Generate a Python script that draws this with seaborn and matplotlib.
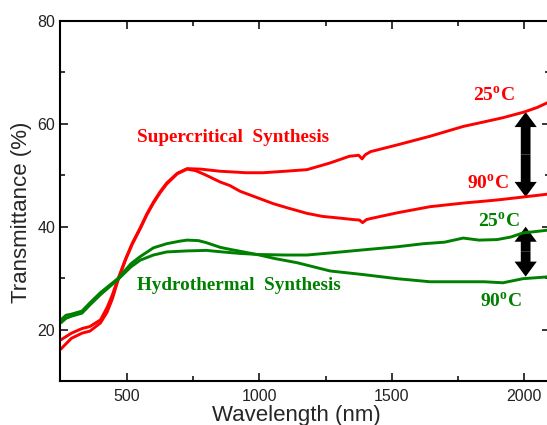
import numpy as np
import pandas as pd
import matplotlib
matplotlib.use("Agg")
import matplotlib.pyplot as plt
import seaborn as sns
from matplotlib.patches import FancyArrowPatch

# Supercritical synthesis, 25 oC
red25_x = [250, 290, 330, 360, 400, 425, 445, 465, 495, 520, 550, 575, 600, 625, 650, 690, 727,
           780, 850, 950, 1014, 1100, 1180, 1267, 1340, 1375, 1388, 1400, 1420, 1520, 1645, 1770,
           1850, 1920, 2000, 2050, 2100]
red25_y = [18.0, 19.3, 20.2, 20.6, 21.9, 24.3, 26.8, 29.7, 33.8, 36.8, 39.8, 42.5, 44.8, 46.8, 48.5,
           50.4, 51.3, 51.2, 50.8, 50.5, 50.5, 50.8, 51.1, 52.4, 53.7, 53.9, 53.2, 54.0, 54.6, 55.9,
           57.6, 59.5, 60.4, 61.2, 62.3, 63.2, 64.4]

# Supercritical synthesis, 90 oC
red90_x = [250, 290, 330, 360, 400, 425, 445, 465, 495, 520, 550, 575, 600, 625, 650, 690, 727,
           760, 800, 852, 889, 927, 1000, 1052, 1104, 1180, 1240, 1300, 1354, 1378, 1390, 1405,
           1430, 1520, 1645, 1770, 1898, 2000, 2050, 2100]
red90_y = [16.2, 18.3, 19.3, 19.7, 21.3, 23.4, 26.0, 29.4, 33.6, 36.6, 39.6, 42.3, 44.6, 46.6, 48.3,
           50.3, 51.2, 50.9, 50.0, 48.7, 48.0, 46.9, 45.5, 44.5, 43.7, 42.6, 42.0, 41.7, 41.4, 41.3,
           40.8, 41.4, 41.7, 42.7, 43.9, 44.6, 45.2, 45.8, 46.1, 46.4]

# Hydrothermal synthesis, 25 oC
grn25_x = [250, 270, 290, 330, 360, 400, 465, 515, 550, 600, 650, 727, 800, 860, 930, 1000, 1100,
           1180, 1267, 1392, 1520, 1620, 1700, 1770, 1830, 1898, 1950, 1996, 2050, 2100]
grn25_y = [21.3, 22.2, 22.6, 23.2, 24.8, 26.8, 29.7, 32.2, 33.5, 34.5, 35.1, 35.3, 35.4, 35.1, 34.8,
           34.6, 34.5, 34.5, 34.9, 35.5, 36.1, 36.7, 37.0, 37.8, 37.4, 37.5, 38.0, 38.8, 39.1, 39.4]

# Hydrothermal synthesis, 90 oC
grn90_x = [250, 270, 290, 330, 360, 400, 465, 515, 550, 600, 650, 700, 727, 770, 800, 852, 889,
           930, 1000, 1060, 1143, 1267, 1392, 1520, 1645, 1770, 1850, 1920, 1996, 2050, 2100]
grn90_y = [21.9, 22.8, 23.0, 23.6, 25.2, 27.2, 29.9, 32.8, 34.2, 35.9, 36.7, 37.2, 37.4, 37.3, 36.9,
           36.0, 35.6, 35.2, 34.5, 33.8, 33.0, 31.4, 30.7, 29.9, 29.3, 29.3, 29.3, 29.1, 29.9, 30.1,
           30.3]

RED = "#ff0000"
GREEN = "#008000"

sns.set_style("ticks")
plt.rcParams["font.family"] = ["Liberation Sans", "DejaVu Sans"]
plt.rcParams["mathtext.fontset"] = "custom"
plt.rcParams["mathtext.rm"] = "Liberation Serif:bold"
plt.rcParams["mathtext.bf"] = "Liberation Serif:bold"

fig = plt.figure(figsize=(5.47, 4.25), dpi=100)
ax = fig.add_axes([0.1097, 0.1035, 0.8958, 0.847])

series = [(red25_x, red25_y, RED), (red90_x, red90_y, RED),
          (grn25_x, grn25_y, GREEN), (grn90_x, grn90_y, GREEN)]
for xs, ys, col in series:
    df = pd.DataFrame({"Wavelength": xs, "T": ys})
    sns.lineplot(data=df, x="Wavelength", y="T", color=col, lw=2.1, ax=ax)

ax.set_xlim(247, 2098)
ax.set_ylim(10, 80)
ax.set_xticks([500, 1000, 1500, 2000])
ax.set_xticks([750, 1250, 1750], minor=True)
ax.set_yticks([20, 40, 60, 80])
ax.set_yticks([30, 50, 70], minor=True)
ax.tick_params(which="both", direction="in", top=True, right=True,
               labelsize=11.5, labelcolor="#222222", width=1.3)
ax.tick_params(which="major", length=6)
ax.tick_params(which="minor", length=3.5)
ax.tick_params(axis="x", pad=6)
for sp in ax.spines.values():
    sp.set_linewidth(1.5)
    sp.set_color("black")

ax.set_xlabel("Wavelength (nm)", fontsize=16)
ax.set_ylabel("Transmittance (%)", fontsize=16)
ax.xaxis.set_label_coords(0.482, -0.068)
ax.yaxis.set_label_coords(-0.058, 0.469)

serif = dict(family="Liberation Serif", fontweight="bold", fontsize=13.8)
ax.text(538, 57.3, "Supercritical  Synthesis", color=RED, va="center", ha="left", **serif)
ax.text(538, 28.5, "Hydrothermal  Synthesis", color=GREEN, va="center", ha="left", **serif)
deg = dict(family="Liberation Serif", fontweight="bold", fontsize=14)
ax.text(1807, 65.5, r"25$^{\mathrm{o}}$C", color=RED, va="center", ha="left", **deg)
ax.text(1785, 48.3, r"90$^{\mathrm{o}}$C", color=RED, va="center", ha="left", **deg)
ax.text(1826, 41.0, r"25$^{\mathrm{o}}$C", color=GREEN, va="center", ha="left", **deg)
ax.text(1834, 25.4, r"90$^{\mathrm{o}}$C", color=GREEN, va="center", ha="left", **deg)

# double-headed arrows: two single arrows from the middle outwards
style = "simple,head_length=1.08,head_width=1.6,tail_width=0.7"
for y0, y1 in [(62.3, 45.8), (40.0, 30.3)]:
    ym = (y0 + y1) / 2
    for yt in (y0, y1):
        arr = FancyArrowPatch((2006, ym), (2006, yt), arrowstyle=style,
                              mutation_scale=10, lw=0, color="black",
                              shrinkA=0, shrinkB=0)
        ax.add_patch(arr)

fig.savefig("out.png", dpi=100)
